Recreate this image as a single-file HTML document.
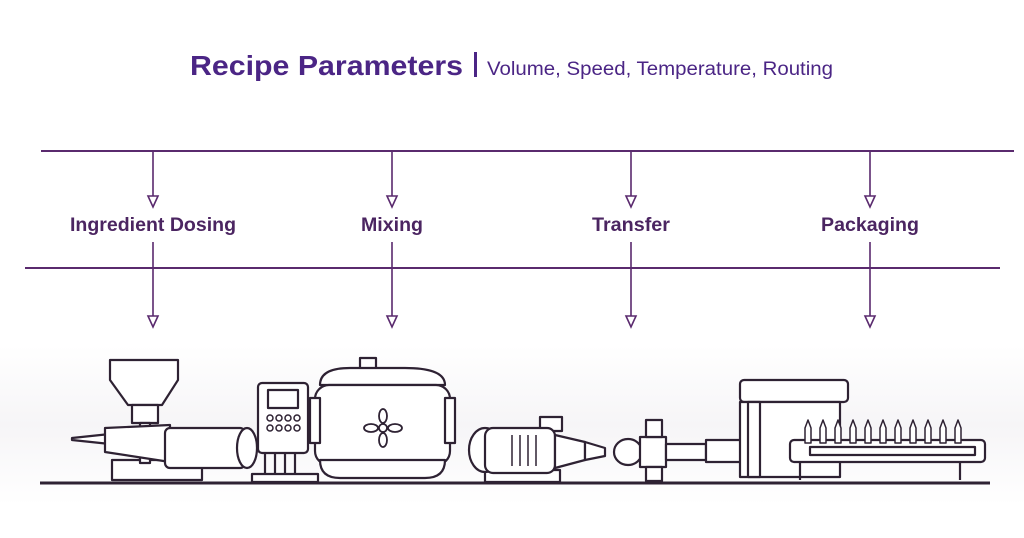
<!DOCTYPE html>
<html><head><meta charset="utf-8"><style>
body{margin:0;background:#fff;width:1024px;height:533px;overflow:hidden;font-family:"Liberation Sans",sans-serif}
</style></head><body>
<svg width="1024" height="533" viewBox="0 0 1024 533" xmlns="http://www.w3.org/2000/svg">
<defs><linearGradient id="g" x1="0" y1="0" x2="0" y2="1"><stop offset="0" stop-color="#fff"/><stop offset="0.5" stop-color="#f6f5f7"/><stop offset="1" stop-color="#fff"/></linearGradient></defs>
<rect x="0" y="345" width="1024" height="160" fill="url(#g)"/>
<text x="190" y="75" font-family="Liberation Sans" font-weight="bold" font-size="28" fill="#4b2585" textLength="273" lengthAdjust="spacingAndGlyphs">Recipe Parameters</text>
<rect x="474" y="52" width="3" height="25" fill="#4b2585"/>
<text x="487" y="75" font-family="Liberation Sans" font-size="19" fill="#4b2585" textLength="346" lengthAdjust="spacingAndGlyphs">Volume, Speed, Temperature, Routing</text>
<g stroke="#5a2a6e" stroke-width="2" fill="none">
<line x1="41" y1="151" x2="1014" y2="151"/>
<line x1="25" y1="268" x2="1000" y2="268"/>
<g stroke-width="1.6">
<path d="M153 151V200M392 151V200M631 151V200M870 151V200"/>
<path d="M153 242V320M392 242V320M631 242V320M870 242V320"/>
<path d="M148 196L153 207L158 196ZM387 196L392 207L397 196ZM626 196L631 207L636 196ZM865 196L870 207L875 196Z" fill="#fff"/>
<path d="M148 316L153 327L158 316ZM387 316L392 327L397 316ZM626 316L631 327L636 316ZM865 316L870 327L875 316Z" fill="#fff"/>
</g></g>
<g font-family="Liberation Sans" font-weight="bold" font-size="19" fill="#4b2561" lengthAdjust="spacingAndGlyphs">
<text x="70" y="231" textLength="166" lengthAdjust="spacingAndGlyphs">Ingredient Dosing</text>
<text x="361" y="231" textLength="62" lengthAdjust="spacingAndGlyphs">Mixing</text>
<text x="592" y="231" textLength="78" lengthAdjust="spacingAndGlyphs">Transfer</text>
<text x="821" y="231" textLength="98" lengthAdjust="spacingAndGlyphs">Packaging</text>
</g>
<g stroke="#2e2233" stroke-width="2.2" fill="#fff" stroke-linejoin="round">
<line x1="40" y1="483" x2="990" y2="483" stroke-width="3"/>
<rect x="112" y="460" width="90" height="20"/>
<path d="M110 360H178V380L162 405H128L110 380Z"/>
<rect x="132" y="405" width="26" height="18"/>
<rect x="140" y="423" width="10" height="40"/>
<path d="M72 438L110 434V444L72 440Z"/>
<path d="M105 428L170 425V462L105 452Z"/>
<rect x="165" y="428" width="80" height="40" rx="5"/>
<ellipse cx="247" cy="448" rx="10" ry="20"/>
<rect x="258" y="383" width="50" height="70" rx="4"/>
<rect x="268" y="390" width="30" height="18"/>
<g fill="none" stroke-width="1.5"><circle cx="270" cy="418" r="3"/><circle cx="279" cy="418" r="3"/><circle cx="288" cy="418" r="3"/><circle cx="297" cy="418" r="3"/><circle cx="270" cy="428" r="3"/><circle cx="279" cy="428" r="3"/><circle cx="288" cy="428" r="3"/><circle cx="297" cy="428" r="3"/></g>
<path d="M265 453V475M275 453V475M285 453V475M295 453V475" fill="none"/>
<rect x="252" y="474" width="66" height="8"/>
<rect x="360" y="358" width="16" height="12"/>
<path d="M320 385Q320 368 350 368H405Q445 368 445 385Z"/>
<rect x="315" y="385" width="135" height="80" rx="14"/>
<rect x="310" y="398" width="10" height="45"/>
<rect x="445" y="398" width="10" height="45"/>
<path d="M320 460Q320 478 340 478H425Q445 478 445 460Z"/>
<g fill="none" stroke-width="1.8"><circle cx="383" cy="428" r="4"/><ellipse cx="383" cy="416" rx="4" ry="7"/><ellipse cx="383" cy="440" rx="4" ry="7"/><ellipse cx="371" cy="428" rx="7" ry="4"/><ellipse cx="395" cy="428" rx="7" ry="4"/></g>
<rect x="485" y="470" width="75" height="12"/>
<rect x="540" y="417" width="22" height="14"/>
<ellipse cx="485" cy="450" rx="16" ry="22"/>
<rect x="485" y="428" width="70" height="45" rx="8"/>
<path d="M512 435V466M520 435V466M528 435V466M536 435V466" fill="none" stroke-width="1.5"/>
<path d="M555 435L585 442V460L555 468Z"/>
<path d="M585 442L605 448V456L585 460Z"/>
<ellipse cx="628" cy="452" rx="14" ry="13"/>
<rect x="640" y="437" width="26" height="30"/>
<rect x="646" y="420" width="16" height="17"/>
<rect x="646" y="467" width="16" height="14"/>
<rect x="666" y="444" width="40" height="16"/>
<rect x="706" y="440" width="45" height="22"/>
<rect x="740" y="380" width="108" height="22" rx="4"/>
<rect x="740" y="402" width="100" height="75"/>
<rect x="748" y="402" width="12" height="75"/>
<rect x="790" y="440" width="195" height="22" rx="4"/>
<rect x="810" y="447" width="165" height="8"/>
<path d="M800 462V480M960 462V480" fill="none"/>
<g stroke-width="1.5">
<path d="M805 443V428L808 420L811 428V443Z M820 443V428L823 420L826 428V443Z M835 443V428L838 420L841 428V443Z M850 443V428L853 420L856 428V443Z M865 443V428L868 420L871 428V443Z M880 443V428L883 420L886 428V443Z M895 443V428L898 420L901 428V443Z M910 443V428L913 420L916 428V443Z M925 443V428L928 420L931 428V443Z M940 443V428L943 420L946 428V443Z M955 443V428L958 420L961 428V443Z"/>
</g>
</g>
</svg>
</body></html>
